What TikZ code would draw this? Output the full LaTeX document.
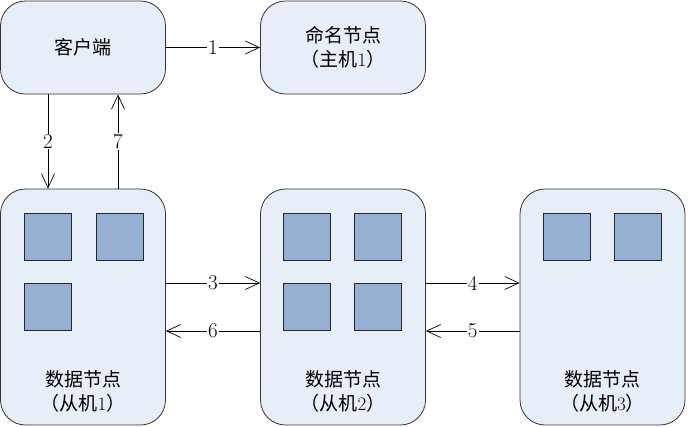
\documentclass[tikz,border=0pt]{standalone}
\usepackage{fontspec}
\newfontfamily\cjk{Noto Sans CJK SC}
\usetikzlibrary{arrows.meta}
\definecolor{boxfill}{HTML}{E8EEF7}
\definecolor{sqfill}{HTML}{95B0D2}
\begin{document}
\begin{tikzpicture}[x=1pt,y=-1pt,
  box/.style={draw=black!80, fill=boxfill, rounded corners=25pt, line width=0.8pt,
    minimum width=165pt, inner sep=0pt, align=center, font=\fontsize{19}{24}\selectfont},
  topbox/.style={box, minimum height=93pt},
  databox/.style={box, minimum height=236pt},
  dtext/.style={align=center, inner sep=0pt, font=\fontsize{19}{24}\selectfont},
  sq/.style={draw=black!85, fill=sqfill, minimum size=47pt, inner sep=0pt, line width=0.8pt},
  arr/.style={-{Straight Barb[length=14pt,width=13pt]}, line width=0.7pt},
  num/.style={fill=white, inner sep=1pt, font=\fontsize{21}{21}\selectfont}]
\useasboundingbox (0,0) rectangle (692,426);
% top boxes
\node[topbox] (client) at (83,47.5) {\cjk 客户端};
\node[topbox] (name) at (343,47.5) {\cjk 命名节点\\{\cjk （主机}1{\cjk ）}};
% data boxes
\node[databox] (d1) at (83,307) {};
\node[databox] (d2) at (343,307) {};
\node[databox] (d3) at (602.5,307) {};
\node[dtext] (t1) at (83,391) {\cjk 数据节点\\{\cjk （从机}1{\cjk ）}};
\node[dtext] (t2) at (343,391) {\cjk 数据节点\\{\cjk （从机}2{\cjk ）}};
\node[dtext] (t3) at (602.5,391) {\cjk 数据节点\\{\cjk （从机}3{\cjk ）}};
% squares
\node[sq] (s11) at (47.5,236.5) {};
\node[sq] (s12) at (119.5,236.5) {};
\node[sq] (s13) at (47.5,307) {};
\node[sq] (s21) at (307,236.5) {};
\node[sq] (s22) at (378,236.5) {};
\node[sq] (s23) at (307,307) {};
\node[sq] (s24) at (378,307) {};
\node[sq] (s31) at (567,236.5) {};
\node[sq] (s32) at (637.5,236.5) {};
% arrows
\draw[arr] (client.east) -- node[num] {1} (name.west);
\draw[arr] ([xshift=-35pt]client.south) -- node[num] {2} ([xshift=-35pt]d1.north);
\draw[arr] ([xshift=35pt]d1.north) -- node[num] {7} ([xshift=35pt]client.south);
\draw[arr] ([yshift=24pt]d1.east) -- node[num] {3} ([yshift=24pt]d2.west);
\draw[arr] ([yshift=-24pt]d2.west) -- node[num] {6} ([yshift=-24pt]d1.east);
\draw[arr] ([yshift=24pt]d2.east) -- node[num] {4} ([yshift=24pt]d3.west);
\draw[arr] ([yshift=-24pt]d3.west) -- node[num] {5} ([yshift=-24pt]d2.east);
\end{tikzpicture}
\end{document}
